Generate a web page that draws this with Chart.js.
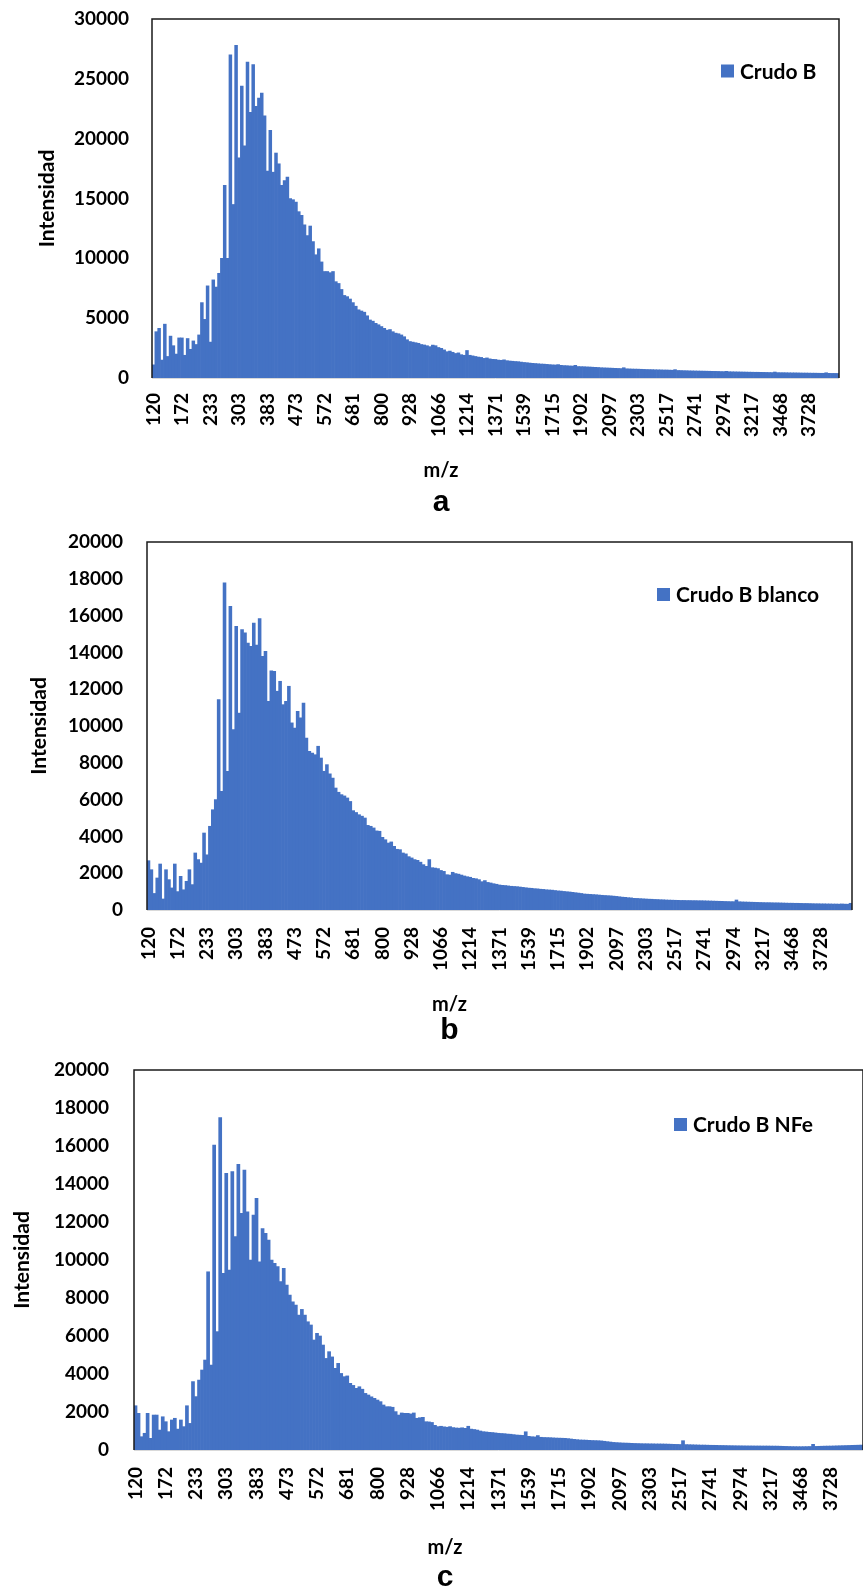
<!DOCTYPE html>
<html>
<head>
<meta charset="utf-8">
<script src="https://cdn.jsdelivr.net/npm/chart.js@4"></script>
<style>
body { margin: 0; background: #fff; }
#wrap { position: relative; width: 863px; height: 1593px; overflow: hidden; }
canvas { position: absolute; left: 0; }
</style>
</head>
<body>
<div id="wrap">
<canvas id="chartA" width="863" height="525" style="top:0px"></canvas>
<canvas id="chartB" width="863" height="525" style="top:525px"></canvas>
<canvas id="chartC" width="863" height="544" style="top:1049px"></canvas>
</div>
<script>
// m/z labels shown every 10 bins
var mzTicks = [120, 172, 233, 303, 383, 473, 572, 681, 800, 928, 1066, 1214, 1371, 1539,
               1715, 1902, 2097, 2303, 2517, 2741, 2974, 3217, 3468, 3728];

// intensities, one line per label interval (10 bins)
var crudoB = [
  1100, 3870, 4150, 1500, 4500, 1800, 3500, 2700, 2000, 3350,
  3350, 1900, 3300, 2400, 3100, 2800, 3600, 6300, 4900, 7700,
  3000, 8200, 7600, 8750, 10000, 16100, 10000, 27000, 14500, 27800,
  18400, 24400, 19400, 26400, 22200, 26200, 22700, 23400, 23800, 21900,
  17300, 20700, 17200, 18800, 17900, 16100, 16500, 16800, 15000, 14900,
  14700, 13900, 13600, 12800, 11900, 12700, 11400, 10300, 10800, 9700,
  8900, 8900, 8800, 8900, 8050, 7900, 7400, 6900, 6800, 6600,
  6300, 6000, 5700, 5600, 5500, 5200, 4850, 4750, 4570, 4450,
  4300, 4150, 4000, 4050, 3870, 3750, 3700, 3600, 3450, 3200,
  3050, 3000, 2950, 2900, 2800, 2760, 2700, 2620, 2750, 2700,
  2550, 2480, 2350, 2200, 2250, 2150, 2050, 2100, 1950, 1900,
  2300, 1900, 1850, 1800, 1750, 1720, 1640, 1680, 1600, 1560,
  1550, 1500, 1480, 1520, 1450, 1420, 1400, 1380, 1365, 1330,
  1300, 1280, 1250, 1225, 1210, 1190, 1170, 1160, 1140, 1120,
  1100, 1090, 1120, 1060, 1040, 1030, 1010, 1000, 1060, 960,
  950, 945, 930, 920, 905, 890, 880, 860, 850, 840,
  830, 820, 810, 800, 790, 860, 770, 760, 750, 745,
  740, 730, 720, 710, 705, 700, 690, 685, 680, 670,
  670, 660, 650, 700, 630, 625, 615, 610, 600, 595,
  590, 585, 580, 575, 570, 565, 560, 555, 550, 540,
  535, 560, 525, 520, 515, 510, 505, 500, 495, 490,
  485, 480, 480, 475, 470, 465, 460, 455, 500, 450,
  445, 445, 440, 435, 430, 430, 425, 420, 415, 415,
  410, 405, 405, 400, 395, 395, 440, 390, 385, 385,
  380
];

var crudoBBlanco = [
  2680, 2190, 900, 1740, 2500, 600, 2190, 1650, 1200, 2500,
  1000, 1830, 1100, 1560, 2190, 1380, 3100, 2740, 2550, 4185,
  3000, 4550, 5450, 6000, 11430, 6450, 17775, 7540, 16500, 9800,
  15420, 10700, 15240, 15060, 14510, 14330, 15600, 14400, 15840, 13790,
  14060, 11340, 13000, 12970, 11890, 12430, 11160, 11340, 12160, 10170,
  9890, 10800, 10440, 11250, 9350, 8620, 8530, 8440, 8900, 8260,
  7540, 7900, 7400, 7175, 6630, 6400, 6270, 6200, 6090, 5900,
  5400, 5300, 5180, 5100, 5000, 4600, 4550, 4460, 4300, 4280,
  3950, 3820, 3640, 3700, 3460, 3300, 3280, 3100, 3050, 2900,
  2830, 2740, 2700, 2600, 2465, 2375, 2740, 2300, 2280, 2250,
  2150, 2100, 1920, 1900, 2050, 1980, 1950, 1900, 1850, 1810,
  1780, 1720, 1700, 1650, 1540, 1600, 1500, 1470, 1430, 1400,
  1360, 1340, 1330, 1310, 1290, 1280, 1270, 1250, 1230, 1210,
  1190, 1180, 1160, 1150, 1130, 1120, 1100, 1090, 1080, 1060,
  1040, 1030, 1010, 995, 980, 960, 940, 920, 900, 870,
  860, 850, 840, 830, 815, 800, 790, 780, 770, 755,
  740, 720, 700, 690, 670, 660, 635, 630, 620, 610,
  600, 590, 585, 575, 570, 560, 555, 545, 540, 535,
  530, 525, 520, 520, 515, 515, 510, 510, 505, 505,
  500, 495, 490, 485, 480, 475, 470, 465, 460, 455,
  455, 545, 450, 440, 435, 430, 425, 420, 415, 410,
  405, 400, 400, 395, 390, 390, 385, 380, 375, 370,
  370, 365, 365, 360, 355, 355, 350, 345, 340, 340,
  335, 335, 330, 330, 325, 325, 320, 330, 320, 315,
  365
];

var crudoBNFe = [
  2330, 1930, 700, 880, 1930, 615, 1840, 1840, 1050, 1750,
  1490, 965, 1580, 1670, 1100, 1580, 1230, 2330, 1400, 3600,
  2810, 3680, 4210, 4735, 9380, 4470, 16050, 6230, 17490, 9300,
  14560, 9470, 14650, 11230, 15030, 12450, 14730, 12540, 10000, 12370,
  13240, 9910, 11660, 11400, 11050, 10000, 9820, 9650, 8860, 9560,
  8680, 8160, 7805, 7630, 7100, 7400, 7100, 6750, 6580, 5790,
  6140, 6000, 5525, 4820, 5175, 4900, 4300, 4560, 4030, 3860,
  3900, 3510, 3400, 3245, 3330, 3200, 2980, 2895, 2800, 2720,
  2630, 2545, 2370, 2280, 2280, 2250, 2020, 1840, 1950, 1930,
  1930, 1900, 1950, 1670, 1700, 1720, 1490, 1480, 1450, 1300,
  1230, 1250, 1220, 1200, 1230, 1180, 1160, 1150, 1170, 1140,
  1250, 1100, 1080, 1050, 1000, 965, 950, 930, 920, 900,
  880, 870, 860, 840, 830, 810, 790, 780, 770, 960,
  720, 700, 690, 760, 670, 660, 655, 650, 640, 630,
  625, 620, 615, 600, 580, 560, 545, 530, 525, 520,
  510, 500, 495, 490, 480, 460, 440, 420, 400, 390,
  380, 370, 365, 360, 350, 345, 340, 335, 330, 330,
  325, 325, 320, 320, 318, 315, 310, 305, 300, 295,
  290, 490, 285, 280, 275, 270, 265, 260, 260, 255,
  250, 248, 245, 240, 238, 235, 230, 228, 225, 222,
  220, 218, 216, 215, 214, 212, 212, 210, 210, 210,
  208, 206, 205, 200, 195, 190, 185, 180, 178, 176,
  175, 178, 180, 185, 300, 190, 195, 200, 205, 208,
  210, 215, 220, 225, 230, 235, 240, 245, 250, 255,
  260
];

var barColor = '#4472C4';
var font = 'Lato';

// box around the plot area
var framePlugin = {
  id: 'frame',
  afterDatasetsDraw: function (chart) {
    var ctx = chart.ctx, a = chart.chartArea;
    ctx.save();
    ctx.strokeStyle = '#d9d9d9';
    ctx.lineWidth = 1;
    ctx.beginPath();
    ctx.moveTo(a.left, a.bottom + 0.5);
    ctx.lineTo(a.right, a.bottom + 0.5);
    ctx.stroke();
    ctx.strokeStyle = '#1a1a1a';
    ctx.lineWidth = 1.5;
    ctx.beginPath();
    ctx.moveTo(a.left, a.bottom);
    ctx.lineTo(a.left, a.top);
    ctx.lineTo(a.right, a.top);
    ctx.lineTo(a.right, a.bottom);
    ctx.stroke();
    ctx.restore();
  }
};

// legend drawn inside the plot area, top right
var boxLegend = {
  id: 'boxLegend',
  afterDraw: function (chart, args, opts) {
    var ctx = chart.ctx, a = chart.chartArea;
    var ds = chart.data.datasets[0];
    var x = a.left + opts.x, y = a.top + opts.y;
    ctx.save();
    ctx.fillStyle = ds.backgroundColor;
    ctx.fillRect(x, y - 6.5, 13, 13);
    ctx.fillStyle = '#000';
    ctx.font = 'bold 21px ' + font;
    ctx.textBaseline = 'middle';
    ctx.fillText(ds.label, x + 19, y + 1);
    ctx.restore();
  }
};

function makeChart(id, label, values, letter, yMax, yStep, L) {
  return new Chart(document.getElementById(id), {
    type: 'bar',
    data: {
      labels: values.map(function (v, i) { return i; }),
      datasets: [{
        label: label,
        data: values,
        backgroundColor: barColor,
        borderWidth: 0,
        barPercentage: 1,
        categoryPercentage: 1
      }]
    },
    options: {
      responsive: false,
      animation: false,
      events: [],
      layout: { padding: { top: L.padT, right: L.padR, bottom: L.padB, left: L.padL } },
      scales: {
        x: {
          grid: { display: false, drawTicks: false },
          border: { display: false },
          ticks: {
            autoSkip: false,
            maxRotation: 90,
            minRotation: 90,
            padding: L.xTickPad,
            color: '#000',
            font: { family: font, weight: 'bold', size: 19 },
            callback: function (v, i) {
              return i % 10 === 0 ? String(mzTicks[i / 10] ?? '') : '';
            }
          },
          afterFit: function (s) {
            s.height = L.xHeight;
            s.paddingLeft = 0;
            s.paddingRight = 0;
          }
        },
        y: {
          min: 0,
          max: yMax,
          grid: { display: false, drawTicks: false },
          border: { display: false },
          ticks: {
            stepSize: yStep,
            padding: L.yTickPad,
            color: '#000',
            font: { family: font, weight: 'bold', size: 19 },
            callback: function (v) { return String(v); }
          },
          title: {
            display: true,
            text: 'Intensidad',
            color: '#000',
            padding: { top: L.yTitlePad, bottom: 0 },
            font: { family: font, weight: 'bold', size: 21, lineHeight: 1 }
          },
          afterFit: function (s) {
            s.width = L.yWidth;
            s.paddingTop = 0;
            s.paddingBottom = 0;
          }
        }
      },
      plugins: {
        legend: { display: false },
        tooltip: { enabled: false },
        subtitle: {
          display: true,
          position: 'bottom',
          text: 'm/z',
          color: '#000',
          padding: { top: 0, bottom: L.subPad },
          font: { family: font, weight: 'bold', size: 20, lineHeight: 1 }
        },
        title: {
          display: true,
          position: 'bottom',
          text: letter,
          color: '#000',
          padding: 0,
          font: { family: 'Liberation Sans', weight: 'bold', size: 30, lineHeight: 1 }
        },
        boxLegend: { x: L.legendX, y: L.legendY }
      }
    },
    plugins: [framePlugin, boxLegend]
  });
}

makeChart('chartA', 'Crudo B', crudoB, 'a', 30000, 5000, {
  padT: 19, padR: 24, padB: 7, padL: 43, yWidth: 109, xHeight: 83,
  xTickPad: 15, yTickPad: 23, yTitlePad: -6, subPad: 7, legendX: 569, legendY: 52
});

makeChart('chartB', 'Crudo B blanco', crudoBBlanco, 'b', 20000, 2000, {
  padT: 17, padR: 11, padB: 4, padL: 47, yWidth: 100, xHeight: 85,
  xTickPad: 17, yTickPad: 24, yTitlePad: -18.5, subPad: 1, legendX: 510, legendY: 52.5
});

makeChart('chartC', 'Crudo B NFe', crudoBNFe, 'c', 20000, 2000, {
  padT: 21, padR: 0, padB: 0, padL: 27, yWidth: 107, xHeight: 88,
  xTickPad: 17, yTickPad: 25, yTitlePad: -15.5, subPad: 5, legendX: 540, legendY: 54.5
});
</script>
</body>
</html>
